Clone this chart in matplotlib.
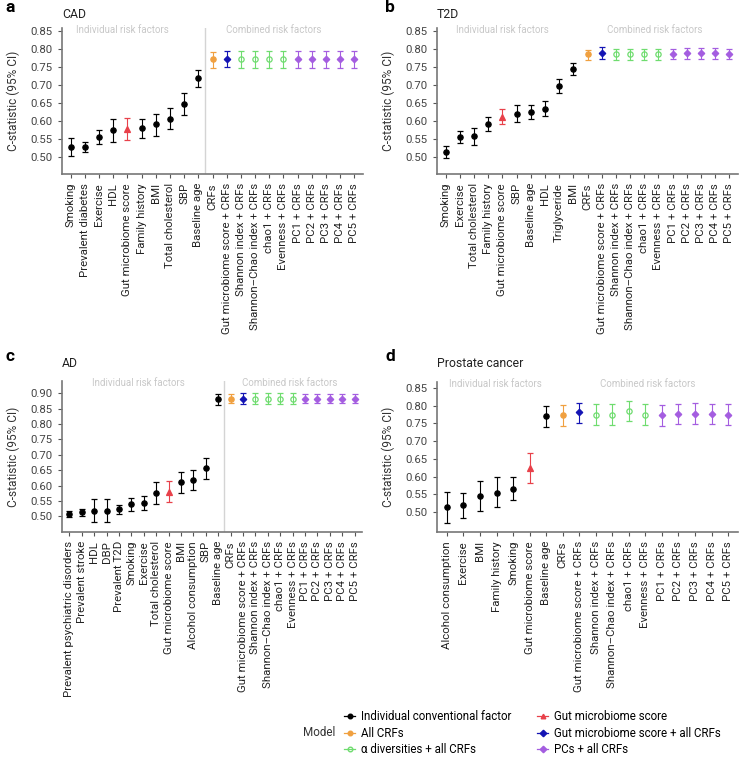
import matplotlib
matplotlib.use("Agg")
import matplotlib.pyplot as plt
from matplotlib.lines import Line2D

plt.rcParams['font.family'] = ['Roboto', 'DejaVu Sans']

# ---- data ----
combined_labels = ['CRFs', 'Gut microbiome score + CRFs', 'Shannon index + CRFs',
                   'Shannon\u2013Chao index + CRFs', 'chao1 + CRFs', 'Evenness + CRFs',
                   'PC1 + CRFs', 'PC2 + CRFs', 'PC3 + CRFs', 'PC4 + CRFs', 'PC5 + CRFs']

cad_labels = ['Smoking', 'Prevalent diabetes', 'Exercise', 'HDL', 'Gut microbiome score',
              'Family history', 'BMI', 'Total cholesterol', 'SBP', 'Baseline age'] + combined_labels
cad_est = [0.528, 0.528, 0.556, 0.576, 0.578, 0.579, 0.590, 0.606, 0.648, 0.718,
           0.770, 0.771, 0.771, 0.771, 0.771, 0.771, 0.771, 0.771, 0.771, 0.771, 0.771]
cad_lo = [0.502, 0.514, 0.535, 0.542, 0.546, 0.553, 0.559, 0.577, 0.617, 0.693,
          0.746, 0.748, 0.746, 0.746, 0.746, 0.746, 0.747, 0.746, 0.747, 0.746, 0.747]
cad_hi = [0.552, 0.541, 0.574, 0.606, 0.609, 0.605, 0.619, 0.636, 0.678, 0.741,
          0.790, 0.792, 0.792, 0.792, 0.792, 0.792, 0.792, 0.792, 0.792, 0.792, 0.792]

t2d_labels = ['Smoking', 'Exercise', 'Total cholesterol', 'Family history', 'Gut microbiome score',
              'SBP', 'Baseline age', 'HDL', 'Triglyceride', 'BMI'] + combined_labels
t2d_est = [0.514, 0.555, 0.557, 0.590, 0.611, 0.620, 0.624, 0.634, 0.697, 0.743,
           0.784, 0.788, 0.786, 0.786, 0.786, 0.786, 0.786, 0.788, 0.787, 0.787, 0.786]
t2d_lo = [0.496, 0.540, 0.533, 0.571, 0.590, 0.598, 0.604, 0.613, 0.677, 0.726,
          0.769, 0.772, 0.769, 0.769, 0.769, 0.769, 0.770, 0.772, 0.771, 0.771, 0.770]
t2d_hi = [0.531, 0.571, 0.581, 0.610, 0.634, 0.643, 0.645, 0.655, 0.717, 0.761,
          0.797, 0.804, 0.799, 0.799, 0.799, 0.799, 0.800, 0.802, 0.801, 0.801, 0.800]

ad_labels = ['Prevalent psychiatric disorders', 'Prevalent stroke', 'HDL', 'DBP', 'Prevalent T2D',
             'Smoking', 'Exercise', 'Total cholesterol', 'Gut microbiome score', 'BMI',
             'Alcohol consumption', 'SBP', 'Baseline age'] + combined_labels
ad_est = [0.509, 0.513, 0.516, 0.518, 0.523, 0.540, 0.543, 0.577, 0.579, 0.610, 0.618, 0.657, 0.880,
          0.883, 0.883, 0.883, 0.883, 0.883, 0.883, 0.883, 0.883, 0.883, 0.883, 0.883]
ad_lo = [0.499, 0.502, 0.480, 0.481, 0.507, 0.518, 0.520, 0.541, 0.546, 0.577, 0.584, 0.622, 0.862,
         0.867, 0.866, 0.866, 0.866, 0.866, 0.866, 0.867, 0.867, 0.867, 0.867, 0.867]
ad_hi = [0.518, 0.525, 0.555, 0.555, 0.536, 0.559, 0.565, 0.611, 0.616, 0.643, 0.651, 0.690, 0.897,
         0.899, 0.900, 0.900, 0.900, 0.900, 0.900, 0.899, 0.899, 0.899, 0.899, 0.899]

pc_labels = ['Alcohol consumption', 'Exercise', 'BMI', 'Family history', 'Smoking',
             'Gut microbiome score', 'Baseline age'] + combined_labels
pc_est = [0.514, 0.519, 0.545, 0.554, 0.565, 0.625, 0.770,
          0.774, 0.781, 0.774, 0.774, 0.785, 0.774, 0.774, 0.778, 0.778, 0.778, 0.775]
pc_lo = [0.469, 0.484, 0.503, 0.514, 0.533, 0.582, 0.739,
         0.744, 0.750, 0.745, 0.745, 0.756, 0.745, 0.744, 0.748, 0.748, 0.748, 0.745]
pc_hi = [0.556, 0.553, 0.588, 0.598, 0.598, 0.667, 0.800,
         0.803, 0.809, 0.804, 0.806, 0.812, 0.805, 0.803, 0.806, 0.809, 0.806, 0.805]

# ---- styles per model type ----
styles = {
    'ind':  dict(color='black', marker='o', mfc='black'),
    'gut':  dict(color='#e8414a', marker='^', mfc='#e8414a'),
    'crf':  dict(color='#f0a040', marker='o', mfc='#f0a040'),
    'gutc': dict(color='#1414b4', marker='D', mfc='#1414b4'),
    'div':  dict(color='#6fdc6f', marker='o', mfc='none'),
    'pcs':  dict(color='#a45de0', marker='D', mfc='#a45de0'),
}


def model_type(label):
    if label == 'Gut microbiome score':
        return 'gut'
    if label == 'CRFs':
        return 'crf'
    if label == 'Gut microbiome score + CRFs':
        return 'gutc'
    if label.startswith('PC'):
        return 'pcs'
    if label.endswith('+ CRFs'):
        return 'div'
    return 'ind'


W, H = 750, 757
fig = plt.figure(figsize=(W / 100, H / 100), dpi=100)


def px_axes(l, t, r, b):
    return fig.add_axes([l / W, 1 - b / H, (r - l) / W, (b - t) / H])


def draw_panel(ax, labels, est, lo, hi, ylim, yticks, sep, ind_x, comb_x, letter, title, lx, ly):
    for i, lab in enumerate(labels):
        st = styles[model_type(lab)]
        ms = 3.8 if st['marker'] != 'D' else 3.3
        ax.errorbar(i, est[i], yerr=[[est[i] - lo[i]], [hi[i] - est[i]]],
                    fmt=st['marker'], color=st['color'], mfc=st['mfc'], mec=st['color'],
                    ms=ms, mew=0.9, ecolor=st['color'], elinewidth=0.8,
                    capsize=2.5, capthick=0.8, zorder=3)
    if sep:
        n_ind = len(labels) - len(combined_labels)
        ax.axvline(n_ind - 0.5, color='#d4d4d4', lw=1, zorder=1)
    ax.set_xlim(-0.6, len(labels) - 0.4)
    ax.set_ylim(*ylim)
    ax.set_yticks(yticks)
    ax.set_yticklabels([f'{v:.2f}' for v in yticks])
    ax.set_xticks(range(len(labels)))
    ax.set_xticklabels(labels, rotation=90)
    ax.tick_params(axis='y', labelsize=8.2, colors='#555555', labelcolor='#444444', length=3, width=0.8)
    ax.tick_params(axis='x', labelsize=8.2, colors='#555555', labelcolor='#222222', length=3, width=0.8)
    for s in ['top', 'right']:
        ax.spines[s].set_visible(False)
    for s in ['left', 'bottom']:
        ax.spines[s].set_color('#777777')
        ax.spines[s].set_linewidth(1.2)
    ax.set_ylabel('C-statistic (95% CI)', fontsize=8.6, color='#333333')
    ax.yaxis.set_label_coords(-0.14, 0.5)
    ax.text(ind_x, 0.985, 'Individual risk factors', transform=ax.transAxes,
            ha='center', va='center', fontsize=7.0, color='#c8c8c8')
    ax.text(comb_x, 0.985, 'Combined risk factors', transform=ax.transAxes,
            ha='center', va='center', fontsize=7.0, color='#c8c8c8')
    fig.text(lx / W, 1 - ly / H, letter, fontsize=12.5, fontweight='bold', ha='left', va='center')
    tx = ax.get_position().x0
    fig.text(tx, 1 - (ly + 7) / H, title, fontsize=8.8, color='#222222', ha='left', va='center')


ax_a = px_axes(62, 28, 363, 174)
draw_panel(ax_a, cad_labels, cad_est, cad_lo, cad_hi, (0.453, 0.857),
           [0.50, 0.55, 0.60, 0.65, 0.70, 0.75, 0.80, 0.85], True, 0.20, 0.704, 'a', 'CAD', 5, 7)

ax_b = px_axes(437, 28, 738, 174)
draw_panel(ax_b, t2d_labels, t2d_est, t2d_lo, t2d_hi, (0.453, 0.857),
           [0.50, 0.55, 0.60, 0.65, 0.70, 0.75, 0.80, 0.85], False, 0.218, 0.724, 'b', 'T2D', 385, 7)

ax_c = px_axes(62, 381, 362, 532)
draw_panel(ax_c, ad_labels, ad_est, ad_lo, ad_hi, (0.449, 0.94),
           [0.50, 0.55, 0.60, 0.65, 0.70, 0.75, 0.80, 0.85, 0.90], True, 0.253, 0.76, 'c', 'AD', 5, 357)

ax_d = px_axes(437, 382, 738, 532)
draw_panel(ax_d, pc_labels, pc_est, pc_lo, pc_hi, (0.4435, 0.867),
           [0.50, 0.55, 0.60, 0.65, 0.70, 0.75, 0.80, 0.85], False, 0.193, 0.70, 'd', 'Prostate cancer', 385, 357)

# ---- legend ----
legend_names = [('ind', 'Individual conventional factor'), ('crf', 'All CRFs'),
                ('div', '\u03b1 diversities + all CRFs'), ('gut', 'Gut microbiome score'),
                ('gutc', 'Gut microbiome score + all CRFs'), ('pcs', 'PCs + all CRFs')]
handles = []
for key, name in legend_names:
    st = styles[key]
    handles.append(Line2D([], [], color=st['color'], marker=st['marker'], mfc=st['mfc'],
                          mec=st['color'], ms=3.3, lw=0.9, label=name))
fig.legend(handles=handles, ncol=2, loc='upper left', bbox_to_anchor=(338 / W, 1 - 704 / H),
           frameon=False, fontsize=8.3, handlelength=1.0, handletextpad=0.5,
           columnspacing=2.2, labelspacing=0.33, borderpad=0)
fig.text(303 / W, 1 - 732 / H, 'Model', fontsize=8.4, color='#333333', ha='left', va='center')

fig.savefig('out.png', dpi=100)
